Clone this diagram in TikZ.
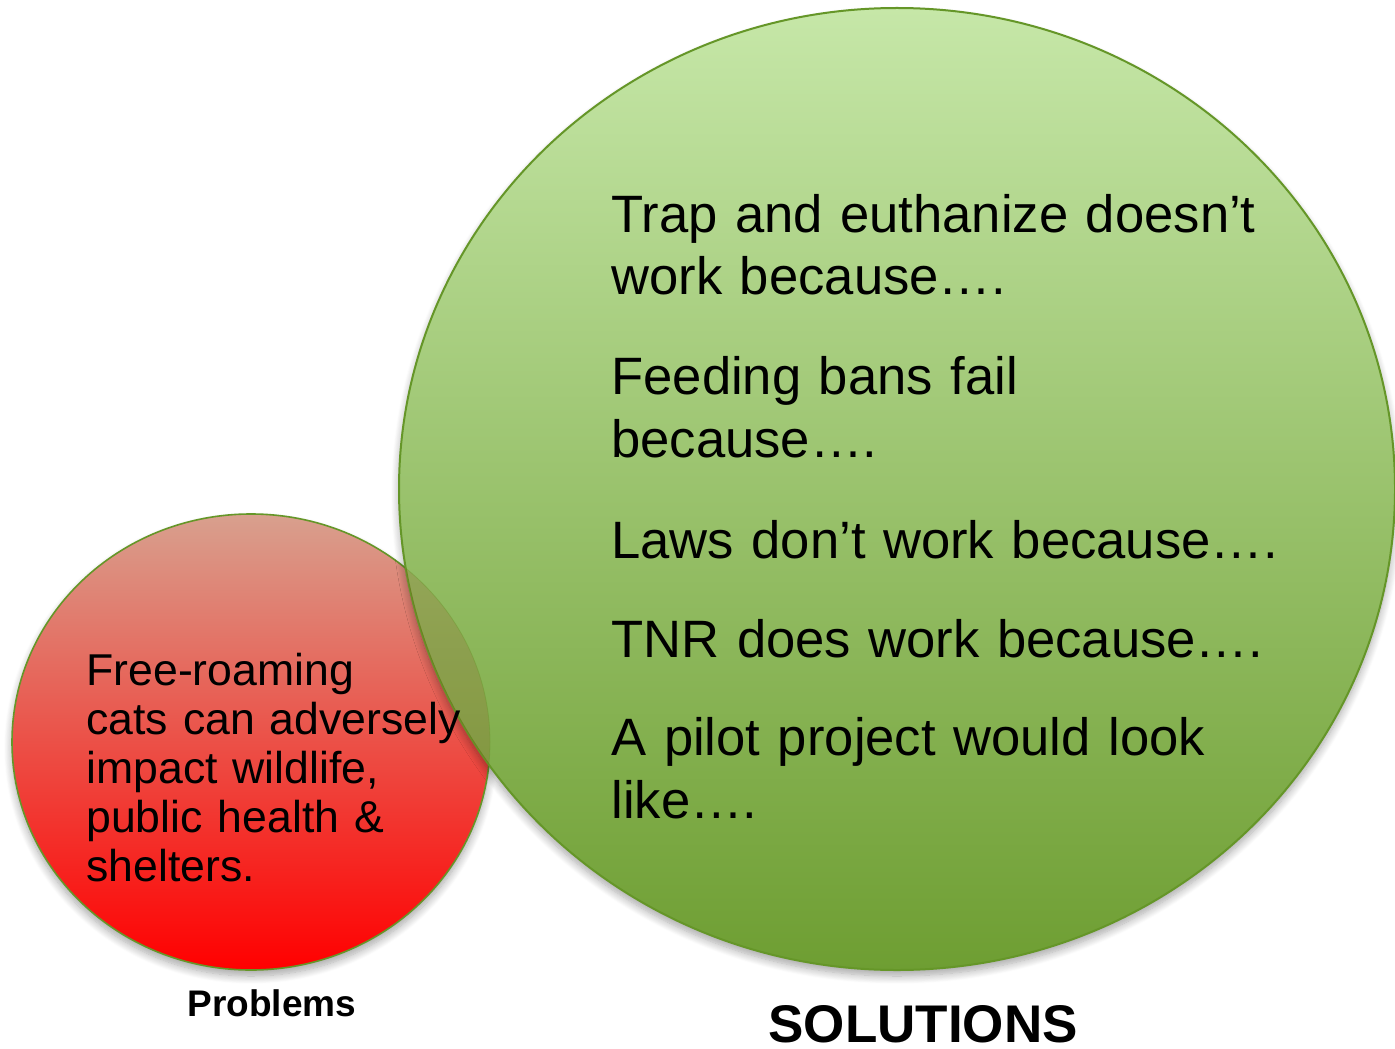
\documentclass[tikz,border=0pt]{standalone}
\usepackage{fontspec}
\setmainfont{Liberation Sans}
\usetikzlibrary{shadows.blur}
\definecolor{leaftop}{HTML}{C6E7A8}
\definecolor{leafbot}{HTML}{6E9E32}
\definecolor{leafline}{HTML}{659628}
\definecolor{rosetop}{HTML}{D8A08E}
\definecolor{rosebot}{HTML}{FF0000}
\tikzset{bubble/.style={line width=0.8pt,draw=leafline,
  blur shadow={shadow xshift=0pt,shadow yshift=-3pt,shadow blur radius=4pt,
    shadow blur steps=10,shadow opacity=35}},
  bodytext/.style={anchor=base west,inner sep=0pt,align=left,
    text width=360pt,font=\fontsize{26.3}{31.5}\selectfont},
  smalltext/.style={bodytext,text width=220pt,font=\fontsize{22.3}{24.5}\selectfont},
  heading/.style={anchor=base,inner sep=0pt,font=\bfseries}}

\begin{document}
\begin{tikzpicture}[x=0.5pt,y=-0.5pt]
\useasboundingbox (0,0) rectangle (1395,1048);
% the two bubbles
\path[bubble,top color=rosetop,bottom color=rosebot] (251,742) ellipse [x radius=239,y radius=228];
\path[bubble,line width=1pt,top color=leaftop,bottom color=leafbot] (897,489) ellipse [x radius=498,y radius=481];
% red seen through the green where they overlap
\begin{scope}
\clip (897,489) ellipse [x radius=498,y radius=481];
\path[draw=leafline,draw opacity=0.35,fill=rosebot!60!black,fill opacity=0.12] (251,742) ellipse [x radius=239,y radius=228];
\end{scope}
% texts
\node[smalltext] (cats) at (86,685) {Free-roaming\\cats can adversely\\impact wildlife,\\public health \&\\shelters.};
\node[bodytext] (trap) at (611,232) {Trap and euthanize doesn’t\\work because….};
\node[bodytext] (feed) at (611,394) {Feeding bans fail\\because….};
\node[bodytext] (laws) at (611,558) {Laws don’t work because….};
\node[bodytext] (tnr) at (611,657) {TNR does work because….};
\node[bodytext] (pilot) at (611,755) {A pilot project would look\\like….};
\node[heading,font=\bfseries\fontsize{18.5}{22}\selectfont] (problems) at (272,1016) {Problems};
\node[heading,font=\bfseries\fontsize{26.5}{30}\selectfont] (solutions) at (923,1042) {SOLUTIONS};
\end{tikzpicture}
\end{document}
